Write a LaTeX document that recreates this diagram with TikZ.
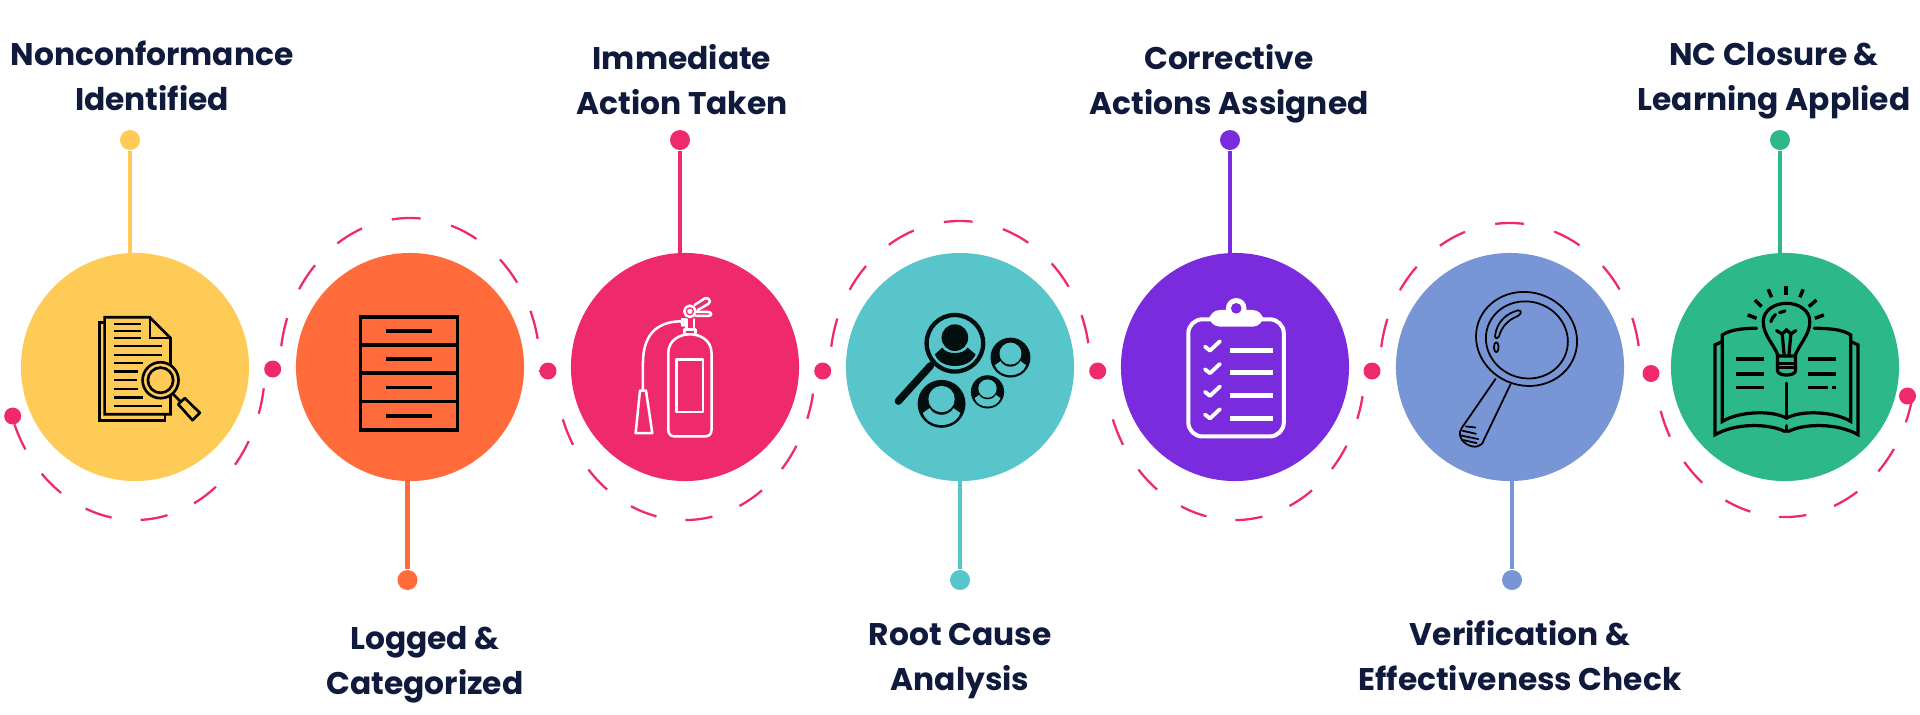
\documentclass[tikz,border=0pt]{standalone}
\usepackage{fontspec}
\setmainfont{Poppins}
\usetikzlibrary{backgrounds}
\definecolor{stepyellow}{HTML}{FFCB57}
\definecolor{steporange}{HTML}{FF6B3A}
\definecolor{steppink}{HTML}{EE2A6C}
\definecolor{stepteal}{HTML}{57C5C9}
\definecolor{steppurple}{HTML}{7A2BDD}
\definecolor{stepblue}{HTML}{7895D5}
\definecolor{stepgreen}{HTML}{2DB88A}
\definecolor{labelnavy}{HTML}{0F1A3C}
\definecolor{iconblack}{HTML}{030F0F}
\begin{document}
\begin{tikzpicture}[x=0.01cm,y=-0.01cm,line join=round,line cap=round]

	\tikzset{step disc/.style={circle,inner sep=0pt,minimum size=2.28cm},
		pin dot/.style={circle,inner sep=0pt,minimum size=0.2cm},
		link dot/.style={circle,inner sep=0pt,minimum size=0.17cm,fill=steppink},
		pin line/.style={line width=1.28pt,line cap=butt},
		ring dash/.style={draw=steppink,line width=0.65pt,line cap=butt,dash pattern=on 7.8pt off 8.3pt},
		ring dash top/.style={ring dash,dash pattern=on 8.2pt off 8.9pt},
		step label/.style={font=\fontsize{8.9}{12.8}\selectfont\bfseries,text=labelnavy,align=center,inner sep=0pt},
		crop px/.style={x=0.003333cm,y=-0.003333cm}}

	\useasboundingbox (0,0) rectangle (1920,714);

	\foreach \n/\cx/\col in {A/135/stepyellow,B/410/steporange,C/685/steppink,D/960/stepteal,E/1235/steppurple,F/1510/stepblue,G/1785/stepgreen}
	\node[step disc,fill=\col] (step\n) at (\cx,367) {};

	\foreach \n/\px/\py/\col in {A/130/140/stepyellow,B/407.5/580/steporange,C/680/140/steppink,D/960/580/stepteal,E/1230/140/steppurple,F/1512/580/stepblue,G/1780/140/stepgreen}
	\node[pin dot,fill=\col] (pin\n) at (\px,\py) {};

	\begin{scope}[on background layer]
	\foreach \n/\col in {A/stepyellow,B/steporange,C/steppink,D/stepteal,E/steppurple,F/stepblue,G/stepgreen}
	\draw[pin line,draw=\col] (pin\n) -- (pin\n |- step\n.center);
	\end{scope}

	\foreach \n/\px/\py in {a/12.7/416,b/272.7/369,c/548/371,d/822.7/371,e/1097.7/371,f/1372/371,g/1651/373.5,h/1907.5/396}
	\node[link dot] (link\n) at (\px,\py) {};

	\foreach \cx/\ry/\a/\b in {135/153/158/8,685/153/160/10,1235/153/160/11,1785/150/163/12}
	\draw[ring dash] (\cx,367) ++(\a:130 and \ry) arc[start angle=\a,end angle=\b,x radius=130,y radius=\ry];
	\foreach \cx/\ry/\a/\b in {410/149/188/362,960/146/188/360,1510/144/188/360}
	\draw[ring dash top] (\cx,367) ++(\a:130 and \ry) arc[start angle=\a,end angle=\b,x radius=130,y radius=\ry];

	\foreach \n/\tx/\ty/\txt in {A/152/76/{Nonconformance\\Identified},B/425/665/{Logged \&\\Categorized},C/682/80/{Immediate\\Action Taken},D/960/661/{Root Cause\\Analysis},E/1229/84/{Corrective\\Actions Assigned},F/1520/656/{Verification \&\\Effectiveness Check},G/1774/81/{NC Closure \&\\Learning Applied}}
	\node[step label] (label\n) at (\tx,\ty) {\txt};

	\begin{scope}[shift={(90,305)},crop px,line width=0.76pt,line join=miter]
	\draw (44,53)--(28,53)--(28,346)--(225,346)--(225,328);
	\draw (44,328)--(44,37)--(180,37)--(242,99)--(242,328)--cycle;
	\draw (180,37)--(180,99)--(242,99);
	\foreach \y/\xb in {57/152,77/152,99/152,123/216,149/216,174/160,200/145,226/140,252/145,278/158,304/216}
	\draw[line width=0.62pt,line cap=butt] (72,\y)--(\xb,\y);
	\draw[fill=stepyellow] (212,226) circle (54);
	\draw (212,226) circle (38);
	\draw (250,268)--(272,290);
	\draw[line join=round] (265,298)--(285,280)--(330,324)--(308,346)--cycle;
	\end{scope}

	\begin{scope}[line width=0.95pt,line join=miter,line cap=butt]
	\draw (360.5,317) rectangle (457.5,430);
	\foreach \y in {345,373,401.5}
	\draw (360.5,\y)--(457.5,\y);
	\foreach \y in {331,359,387.5,416}
	\draw (386,\y)--(431.5,\y);
	\end{scope}

	\begin{scope}[shift={(625,290)},crop px,draw=white,line width=0.72pt]
	\draw (130,420)--(130,190) .. controls (130,150) and (165,133) .. (195,133) .. controls (225,133) and (260,150) .. (260,190)--(260,420) .. controls (260,435) and (250,440) .. (240,440)--(150,440) .. controls (140,440) and (130,435) .. (130,420)--cycle;
	\draw (154,209) rectangle (235,366);
	\draw (178,130)--(178,118)--(212,118)--(212,130);
	\draw (184,118)--(184,88);
	\draw (207,118)--(207,88);
	\draw[rounded corners=1pt] (170,88)--(182,88)--(182,106)--(170,106)--cycle;
	\draw (195,64) circle (17);
	\draw (195,64) circle (5);
	\draw (172,94) .. controls (110,94) and (54,120) .. (54,220)--(54,300);
	\draw (45,302)--(63,302)--(82,430)--(32,430)--cycle;
	\draw (209,45)--(240,25) .. controls (250,20) and (262,35) .. (250,42)--(219,60);
	\draw (213,66)--(250,66) .. controls (262,66) and (262,78) .. (250,78)--(213,78);
	\end{scope}

	\begin{scope}[shift={(885,305)},crop px,draw=iconblack,fill=iconblack]
	\draw[line width=1.23pt,fill=none] (210,115) circle (85);
	\draw[line width=2.1pt] (137,182)--(40,289);
	\fill (210,98) circle (40);
	\fill (150,148)--(172,128) .. controls (185,150) and (235,150) .. (248,128)--(272,148) .. controls (255,195) and (165,195) .. (150,148)--cycle;
	\foreach \px/\py/\pr in {170/297/72,377/158/60,308/261/50}{
	\begin{scope}[shift={(\px,\py)},scale=\pr]
	\fill (0,0) circle (1);
	\fill[stepteal] (0,-0.2) circle (0.55);
	\fill[stepteal] (-0.78,0.38)--(-0.5,0.18) .. controls (-0.3,0.55) and (0.3,0.55) .. (0.5,0.18)--(0.78,0.38) .. controls (0.55,1.05) and (-0.55,1.05) .. (-0.78,0.38)--cycle;
	\end{scope}}
	\end{scope}

	\begin{scope}[shift={(1175,290)},crop px,draw=white,fill=white]
	\draw[line width=1.15pt,fill=none,rounded corners=4pt] (40,88) rectangle (327,440);
	\fill[rounded corners=3pt] (103,60) rectangle (265,110);
	\fill (184,55) circle (31);
	\fill[steppurple] (184,55) circle (16);
	\foreach \y in {0,68,136,204}{
	\draw[line width=1.45pt,line cap=butt] (165,181+\y)--(293,181+\y);
	\draw[line width=1.1pt] (90,170+\y)--(105,182+\y)--(135,154+\y);
	}
	\end{scope}

	\begin{scope}[shift={(1450,285)},crop px,line width=0.5pt]
	\draw (230,162) circle[x radius=153,y radius=140,rotate=-18];
	\draw (231,165) circle[x radius=124,y radius=115,rotate=-18];
	\draw (135,155) .. controls (140,110) and (170,85) .. (205,76) .. controls (215,76) and (218,86) .. (200,95) .. controls (175,105) and (155,125) .. (147,155) .. controls (144,162) and (134,162) .. (135,155)--cycle;
	\draw (139,187) circle[x radius=7,y radius=15];
	\draw (137,282)--(35,430) .. controls (25,445) and (28,465) .. (50,478) .. controls (70,490) and (95,490) .. (102,465)--(182,298);
	\foreach \xa/\ya/\xb/\yb in {48/425/76/428,38/438/78/447,32/452/85/463,40/466/80/475}
	\draw (\xa,\ya)--(\xb,\yb);
	\end{scope}

	\begin{scope}[shift={(1705,280)},crop px,line width=0.92pt,line join=miter]
	\foreach \xa/\ya/\xb/\yb in {243/18/243/45,190/28/200/52,150/60/170/80,128/105/155/115,295/28/285/52,335/60/312/80,357/105/330/115}
	\draw[line width=1pt,line cap=butt] (\xa,\ya)--(\xb,\yb);
	\draw (220,228) .. controls (205,190) and (175,165) .. (175,125) .. controls (175,90) and (210,70) .. (245,70) .. controls (280,70) and (315,90) .. (315,125) .. controls (315,165) and (285,190) .. (270,228);
	\draw (218,228)--(272,228)--(272,272) .. controls (272,290) and (218,290) .. (218,272)--cycle;
	\draw (218,250)--(272,250);
	\draw (218,262)--(272,262);
	\draw (215,152)--(232,162)--(245,150)--(258,162)--(273,152);
	\draw (232,162)--(238,228);
	\draw (258,162)--(252,228);
	\draw (198,125) .. controls (200,115) and (205,110) .. (212,104);
	\draw (224,98)--(240,93);
	\draw (155,145) .. controls (110,145) and (75,150) .. (52,165)--(52,425) .. controls (100,395) and (200,390) .. (245,415) .. controls (290,390) and (390,395) .. (438,425)--(438,165) .. controls (415,150) and (380,145) .. (328,145);
	\draw (52,185)--(30,195)--(30,465) .. controls (90,430) and (190,430) .. (240,455);
	\draw (250,455) .. controls (300,430) and (400,430) .. (460,465)--(460,195)--(438,185);
	\draw (245,310)--(245,412);
	\draw (245,438)--(245,455);
	\foreach \y in {238,282,323}
	\draw[line width=1.05pt,line cap=butt] (93,\y)--(178,\y);
	\foreach \y in {238,282}
	\draw[line width=1.05pt,line cap=butt] (310,\y)--(395,\y);
	\draw[line width=1.05pt,line cap=butt] (310,323)--(370,323);
	\draw[line width=1.05pt,line cap=butt] (382,323)--(395,323);
	\end{scope}

\end{tikzpicture}
\end{document}
